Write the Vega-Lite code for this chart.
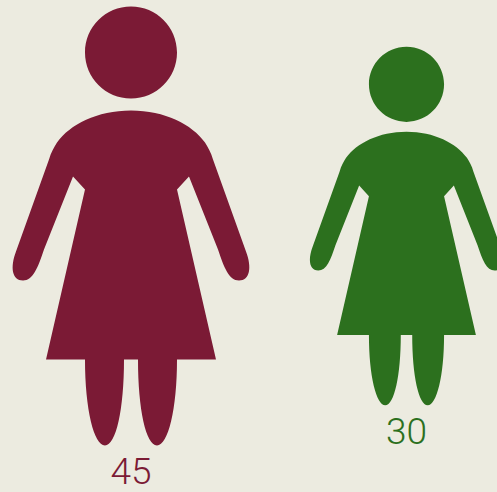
{"$schema":"https://vega.github.io/schema/vega-lite/v6.json","width":497,"height":452,"autosize":"none","padding":{"left":0,"top":0,"right":0,"bottom":40},"background":"#ecebe0","config":{"view":{"stroke":null}},"data":{"values":[{"group":"A","value":45},{"group":"B","value":30}]},"encoding":{"x":{"field":"group","type":"nominal","axis":null,"scale":{"domain":["A","B"],"range":[131,406.5],"padding":0}},"color":{"field":"group","type":"nominal","legend":null,"scale":{"domain":["A","B"],"range":["#7b1a35","#2c701e"]}}},"layer":[{"mark":{"type":"point","filled":true,"opacity":1,"shape":"M0,-1C0.1158,-1,0.2096,-0.9062,0.2096,-0.7904C0.2096,-0.6746,0.1158,-0.5808,0,-0.5808C-0.1158,-0.5808,-0.2096,-0.6746,-0.2096,-0.7904C-0.2096,-0.9062,-0.1158,-1,0,-1ZM0,-0.5262C0.1549,-0.5262,0.2779,-0.4624,0.3371,-0.3804C0.3508,-0.3576,0.3645,-0.3349,0.3736,-0.3030L0.5239,0.1162C0.5513,0.1891,0.5421,0.2483,0.4920,0.2483C0.4465,0.2483,0.4237,0.1891,0.3964,0.1071L0.2642,-0.2255L0.2096,-0.1663L0.3872,0.6082L0.2096,0.6082C0.2096,0.8360,0.1686,1,0.1185,1C0.0683,1,0.0319,0.8360,0.0319,0.6082L-0.0319,0.6082C-0.0319,0.8360,-0.0683,1,-0.1185,1C-0.1686,1,-0.2096,0.8360,-0.2096,0.6082L-0.3872,0.6082L-0.2096,-0.1663L-0.2642,-0.2255L-0.3964,0.1071C-0.4237,0.1891,-0.4465,0.2483,-0.4920,0.2483C-0.5421,0.2483,-0.5513,0.1891,-0.5239,0.1162L-0.3736,-0.3030C-0.3645,-0.3349,-0.3508,-0.3576,-0.3371,-0.3804C-0.2779,-0.4624,-0.1549,-0.5262,0,-0.5262Z"},"encoding":{"size":{"field":"value","type":"quantitative","legend":null,"scale":{"domain":[0,45],"range":[0,192721]}}}},{"mark":{"type":"text","font":"Roboto","fontWeight":300,"fontSize":37,"baseline":"middle","align":"center"},"encoding":{"y":{"field":"value","type":"quantitative","axis":null,"scale":{"domain":[30,45],"range":[433,473],"zero":false}},"text":{"field":"value","type":"quantitative"}}}]}
